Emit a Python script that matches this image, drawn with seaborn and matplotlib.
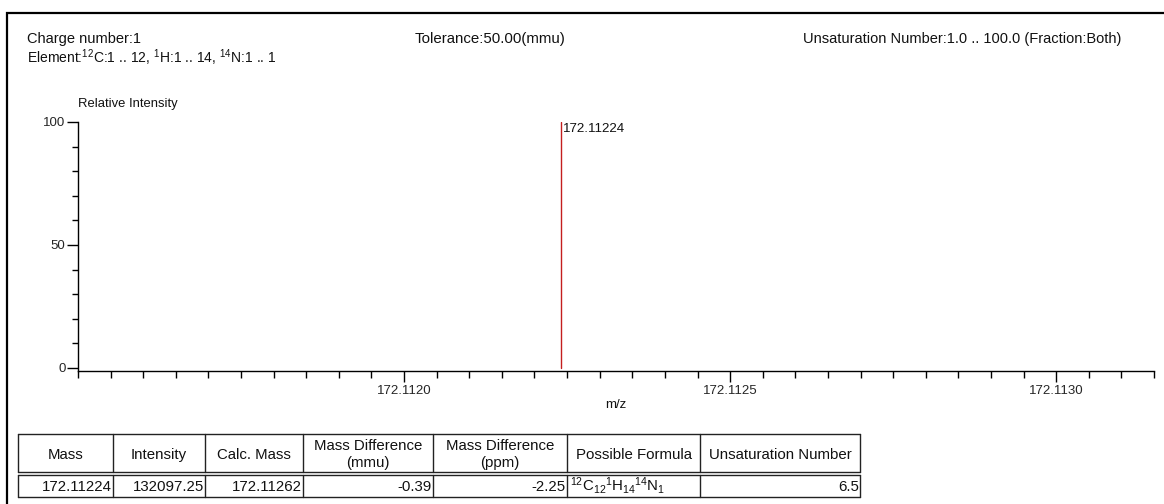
import numpy as np
import pandas as pd
import matplotlib
matplotlib.use("Agg")
import matplotlib.pyplot as plt
import seaborn as sns
from matplotlib.ticker import FixedLocator, MultipleLocator
from matplotlib.lines import Line2D
from matplotlib.patches import Rectangle

# ---- spectrum data ----
peak_mz = [172.11224]
peak_rel_intensity = [100.0]
peak_labels = ["172.11224"]

x_major_ticks = [172.1120, 172.1125, 172.1130]
x_tick_labels = ["172.1120", "172.1125", "172.1130"]
y_major_ticks = [0, 50, 100]

# ---- search conditions ----
charge_text = "Charge number:1"
element_text = r"Element:$^{12}$C:1 .. 12, $^{1}$H:1 .. 14, $^{14}$N:1 .. 1"
tolerance_text = "Tolerance:50.00(mmu)"
unsaturation_text = "Unsaturation Number:1.0 .. 100.0 (Fraction:Both)"

# ---- result table ----
table_headers = ["Mass", "Intensity", "Calc. Mass", "Mass Difference\n(mmu)",
                 "Mass Difference\n(ppm)", "Possible Formula", "Unsaturation Number"]
obs_mass = [172.11224]
obs_intensity = [132097.25]
calc_mass = [172.11262]
diff_mmu = [-0.39]
diff_ppm = [-2.25]
formula = [r"$^{12}$C$_{12}$$^{1}$H$_{14}$$^{14}$N$_{1}$"]
unsat_number = [6.5]

W, H = 1164, 504

sns.set_theme(style="ticks")
plt.rcParams["font.family"] = ["Liberation Sans", "DejaVu Sans"]
plt.rcParams["mathtext.fontset"] = "custom"
plt.rcParams["mathtext.rm"] = "Liberation Sans"
plt.rcParams["mathtext.it"] = "Liberation Sans:italic"
plt.rcParams["mathtext.bf"] = "Liberation Sans:bold"
plt.rcParams["text.color"] = "#111111"


def fx(px):
    return px / W


def fy(py):
    return 1 - py / H


fig = plt.figure(figsize=(W / 100, H / 100), dpi=100, facecolor="white")

# outer frame of the report
fig.add_artist(Rectangle((fx(7), fy(520)), fx(1180) - fx(7), fy(13) - fy(520),
                         transform=fig.transFigure, fill=False,
                         edgecolor="black", linewidth=1.6, clip_on=False))

# header lines
fig.text(fx(27), fy(39), charge_text, fontsize=10.5, va="center", ha="left")
fig.text(fx(27), fy(58), element_text, fontsize=10, va="center", ha="left")
fig.text(fx(415), fy(39), tolerance_text, fontsize=10.8, va="center", ha="left")
fig.text(fx(803), fy(39), unsaturation_text, fontsize=10.5, va="center", ha="left")
fig.text(fx(78), fy(104), "Relative Intensity", fontsize=9.4, va="center", ha="left")

# ---- spectrum axes ----
ax = fig.add_axes([fx(78), fy(371), fx(1154) - fx(78), fy(122) - fy(371)])
ax.set_facecolor("white")

rows = []
for i, (mz, inten) in enumerate(zip(peak_mz, peak_rel_intensity)):
    rows.append({"peak": i, "mz": mz, "intensity": 0.0})
    rows.append({"peak": i, "mz": mz, "intensity": inten})
sticks = pd.DataFrame(rows)

sns.lineplot(data=sticks, x="mz", y="intensity", units="peak", estimator=None,
             sort=False, color="#c41e1e", linewidth=1.0, ax=ax, legend=False)

for mz, inten, lab in zip(peak_mz, peak_rel_intensity, peak_labels):
    ax.annotate(lab, xy=(mz, inten), xytext=(1.5, -1), textcoords="offset points",
                ha="left", va="top", fontsize=9.6)

ax.set_xlim(172.1115, 172.11315)
ax.set_ylim(-1.22, 100)

ax.xaxis.set_major_locator(FixedLocator(x_major_ticks))
ax.set_xticklabels(x_tick_labels)
ax.xaxis.set_minor_locator(MultipleLocator(0.00005))
ax.yaxis.set_major_locator(FixedLocator(y_major_ticks))
ax.yaxis.set_minor_locator(MultipleLocator(10))

ax.tick_params(axis="x", which="major", direction="out", length=8, width=1,
               color="black", labelsize=9.5, pad=2)
ax.tick_params(axis="x", which="minor", direction="out", length=5, width=1,
               color="black")
ax.tick_params(axis="y", which="major", direction="out", length=8, width=1,
               color="black", labelsize=9.5, pad=1)
ax.tick_params(axis="y", which="minor", direction="out", length=4.5, width=1,
               color="black")

for side in ("top", "right"):
    ax.spines[side].set_visible(False)
for side in ("left", "bottom"):
    ax.spines[side].set_color("black")
    ax.spines[side].set_linewidth(1.0)

ax.set_xlabel("")
ax.set_ylabel("")
fig.text(fx(616), fy(405), "m/z", fontsize=9.5, va="center", ha="center")

# ---- result table ----
col_edges = [18, 113, 205, 303, 433, 567, 700, 860]
row_top, row_mid1, row_mid2, row_bot = 434, 472, 475, 497
tbl_lw = 1.0
tbl_fs = 10.8


def hline(py, x0, x1):
    fig.add_artist(Line2D([fx(x0), fx(x1)], [fy(py), fy(py)],
                          transform=fig.transFigure, color="#222222", linewidth=tbl_lw))


def vline(px, y0, y1):
    fig.add_artist(Line2D([fx(px), fx(px)], [fy(y0), fy(y1)],
                          transform=fig.transFigure, color="#222222", linewidth=tbl_lw))


for py in (row_top, row_mid1, row_mid2, row_bot):
    hline(py, col_edges[0], col_edges[-1])
for px in col_edges:
    vline(px, row_top, row_mid1)
    vline(px, row_mid2, row_bot)

for j, head in enumerate(table_headers):
    cx = (col_edges[j] + col_edges[j + 1]) / 2
    lines = head.split("\n")
    if len(lines) == 1:
        fig.text(fx(cx), fy(459), lines[0], fontsize=tbl_fs, ha="center", va="baseline")
    else:
        fig.text(fx(cx), fy(450), lines[0], fontsize=tbl_fs, ha="center", va="baseline")
        fig.text(fx(cx), fy(467), lines[1], fontsize=tbl_fs, ha="center", va="baseline")

row_base = fy(491)
for i in range(len(obs_mass)):
    cells = [f"{obs_mass[i]:.5f}", f"{obs_intensity[i]:.2f}", f"{calc_mass[i]:.5f}",
             f"{diff_mmu[i]:.2f}", f"{diff_ppm[i]:.2f}"]
    for j, val in enumerate(cells):
        fig.text(fx(col_edges[j + 1] - 1), row_base, val, fontsize=tbl_fs,
                 ha="right", va="baseline")
    fig.text(fx(col_edges[5] + 3), row_base, formula[i], fontsize=tbl_fs,
             ha="left", va="baseline")
    fig.text(fx(col_edges[7] - 1), row_base, f"{unsat_number[i]:.1f}", fontsize=tbl_fs,
             ha="right", va="baseline")

fig.savefig("out.png", dpi=100, facecolor="white")
